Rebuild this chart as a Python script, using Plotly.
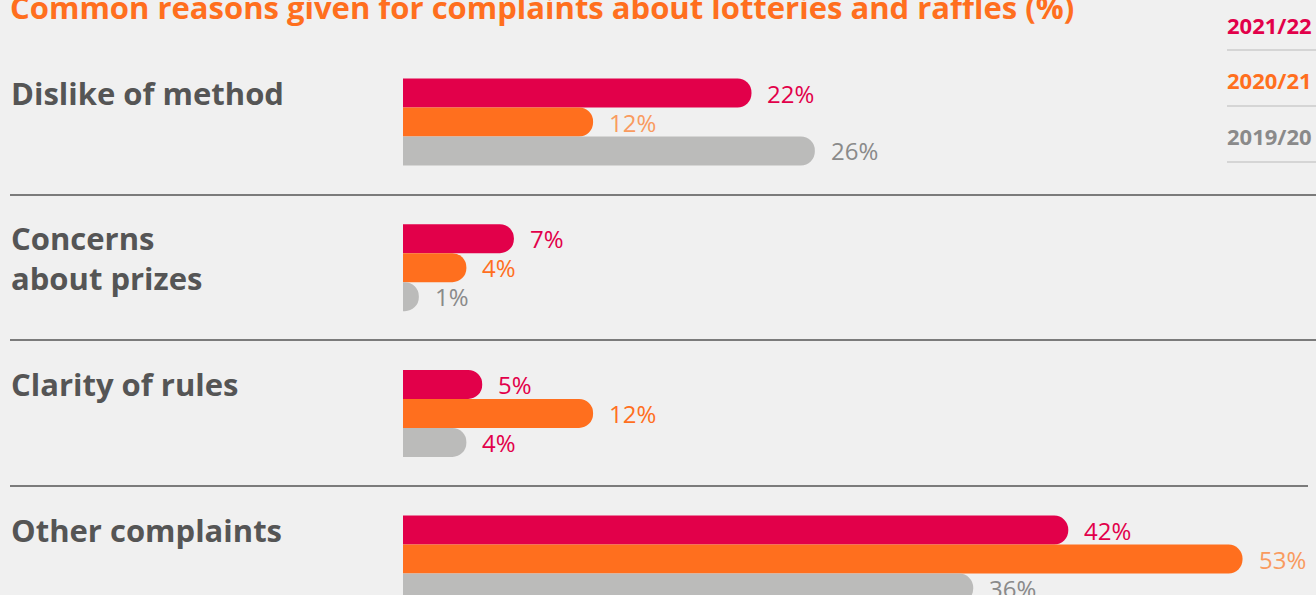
import plotly.graph_objects as go

categories = ["Dislike of method", "Concerns<br>about prizes", "Clarity of rules", "Other complaints"]
series_names = ["2021/22", "2020/21", "2019/20"]
values_2021_22 = [22, 7, 5, 42]
values_2020_21 = [12, 4, 12, 53]
values_2019_20 = [26, 1, 4, 36]
series_values = [values_2021_22, values_2020_21, values_2019_20]

bar_colors = ["#E2004A", "#FF6F1E", "#BBBBBA"]
legend_colors = ["#E2004A", "#FF6F1E", "#8A8A8A"]
# colour of each value label, per category, per series
label_colors = [
    ["#E2004A", "#F99B5F", "#8A8A8A"],
    ["#E2004A", "#FF6F1E", "#8A8A8A"],
    ["#E2004A", "#FF6F1E", "#E2004A"],
    ["#E2004A", "#F99B5F", "#8A8A8A"],
]

W, H = 1316, 595
BG = "#F0F0F0"
FONT = "Open Sans"
BARGAP = 0.403
bar_w = (1 - BARGAP) / 3

fig = go.Figure()
cat_idx = list(range(len(categories)))
for name, vals, col in zip(series_names, series_values, bar_colors):
    fig.add_trace(go.Bar(
        y=cat_idx, x=vals, orientation="h", name=name,
        marker=dict(color=col, line=dict(width=0), cornerradius=14),
        showlegend=False, hoverinfo="skip",
    ))

annotations = []
# value labels beside each bar
for ci in cat_idx:
    for si, vals in enumerate(series_values):
        yc = ci + (si - 1) * bar_w
        annotations.append(dict(
            x=vals[ci], y=yc, xref="x", yref="y", text=f"{vals[ci]}%",
            showarrow=False, xanchor="left", yanchor="middle", xshift=14,
            font=dict(family=FONT, size=24, color=label_colors[ci][si], weight=500),
        ))

# category labels
for ci, cat in enumerate(categories):
    annotations.append(dict(
        x=9 / W, y=ci - 1.5 * bar_w, xref="paper", yref="y", text=cat,
        showarrow=False, xanchor="left", yanchor="top", align="left", yshift=9,
        font=dict(family=FONT, size=31, color="#555555", weight=700),
    ))

# title
annotations.append(dict(
    x=8 / W, y=1, xref="paper", yref="paper", text="Common reasons given for complaints about lotteries and raffles (%)",
    showarrow=False, xanchor="left", yanchor="top", yshift=16,
    font=dict(family=FONT, size=31, color="#FF6F1E", weight=700),
))

# legend entries
legend_y = [25, 80, 136]
for name, col, py in zip(series_names, legend_colors, legend_y):
    annotations.append(dict(
        x=1314 / W, y=1 - py / H, xref="paper", yref="paper", text=name,
        showarrow=False, xanchor="right", yanchor="middle",
        font=dict(family=FONT, size=22, color=col, weight=700),
    ))

shapes = []
for py in [50, 106, 162]:
    shapes.append(dict(type="line", xref="paper", yref="paper",
                       x0=1227 / W, x1=1, y0=1 - py / H, y1=1 - py / H,
                       line=dict(color="#CCCCCC", width=1.5)))
for py, x1 in [(195, 1316), (340, 1316), (486, 1308)]:
    shapes.append(dict(type="line", xref="paper", yref="paper",
                       x0=10 / W, x1=x1 / W, y0=1 - py / H, y1=1 - py / H,
                       line=dict(color="#555555", width=1.5)))

PX_PER = 15.84
X0 = 403
CAT_PX = 145.7
FIRST_C = 122

fig.update_layout(
    width=W, height=H,
    margin=dict(l=0, r=0, t=0, b=0),
    paper_bgcolor=BG, plot_bgcolor=BG,
    barmode="group", bargap=BARGAP, bargroupgap=0,
    xaxis=dict(range=[-X0 / PX_PER, (W - X0) / PX_PER], visible=False, fixedrange=True),
    yaxis=dict(range=[(H - FIRST_C) / CAT_PX, -FIRST_C / CAT_PX], visible=False, fixedrange=True),
    annotations=annotations, shapes=shapes,
)

fig.write_html("out.html")
